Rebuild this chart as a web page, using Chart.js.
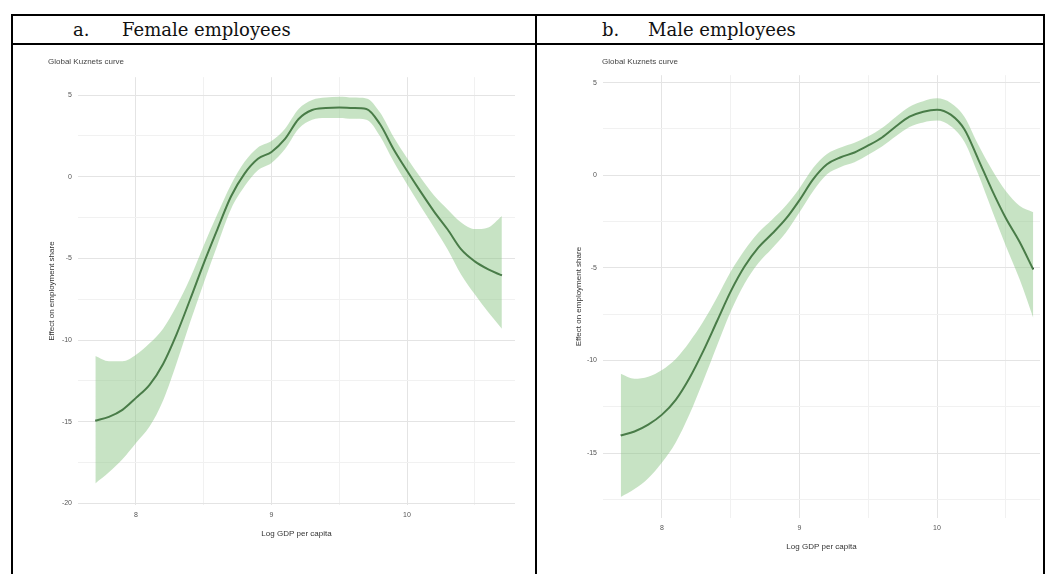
<!DOCTYPE html>
<html>
<head>
<meta charset="utf-8">
<script src="https://cdn.jsdelivr.net/npm/chart.js@4/dist/chart.umd.min.js"></script>
<style>
  body { margin: 0; background: #fff; width: 1056px; height: 574px; position: relative; overflow: hidden; }
  .hline, .vline { position: absolute; background: #000; }
  .head { position: absolute; font-family: "DejaVu Serif", serif; font-size: 18px; color: #111; top: 19px; }
  .sub { position: absolute; font-family: "Liberation Sans", Arial, sans-serif; font-size: 8px; color: #444; top: 57px; filter: blur(0.4px); }
  canvas { position: absolute; filter: blur(0.4px); }
</style>
</head>
<body>
<!-- table frame -->
<div class="hline" style="left:11px; top:14px; width:1034px; height:2px"></div>
<div class="hline" style="left:11px; top:43px; width:1034px; height:2px"></div>
<div class="vline" style="left:11px; top:14px; width:2px; height:560px"></div>
<div class="vline" style="left:535px; top:14px; width:2px; height:560px"></div>
<div class="vline" style="left:1043px; top:14px; width:2px; height:560px"></div>

<div class="head" style="left:73px">a.</div>
<div class="head" style="left:122px">Female employees</div>
<div class="head" style="left:602px">b.</div>
<div class="head" style="left:648px">Male employees</div>

<div class="sub" style="left:48px">Global Kuznets curve</div>
<div class="sub" style="left:602px">Global Kuznets curve</div>

<div style="position:absolute; left:47px; top:67px; width:471px; height:472px"><canvas id="chart-female"></canvas></div>
<div style="position:absolute; left:574px; top:65px; width:469px; height:487px"><canvas id="chart-male"></canvas></div>

<script>
// Log GDP per capita grid shared by both panels
const gdpLog = [7.7, 7.8, 7.9, 8.0, 8.1, 8.2, 8.3, 8.4, 8.5, 8.6, 8.7, 8.8, 8.9, 9.0, 9.1, 9.2,
  9.3, 9.4, 9.5, 9.6, 9.7, 9.8, 9.9, 10.0, 10.1, 10.2, 10.3, 10.4, 10.5, 10.6, 10.7]

// Female employees: fitted effect and confidence band
const femaleFit = [-14.94, -14.70, -14.27, -13.54, -12.74, -11.46, -9.63, -7.50, -5.30, -3.23, -1.22, 0.18,
  1.10, 1.52, 2.32, 3.54, 4.09, 4.21, 4.24, 4.21, 4.15, 3.23, 1.71, 0.37, -0.91, -2.13, -3.23, -4.45, -5.18, -5.67, -6.04]
const femaleUpper = [-10.98, -11.3, -11.3, -10.9, -10.2, -9.3, -7.9, -6.2, -4.2, -2.3, -0.5, 0.9,
  1.8, 2.2, 2.95, 4.15, 4.7, 4.85, 4.9, 4.85, 4.8, 3.95, 2.45, 1.15, -0.05, -1.15, -2.0, -2.8, -3.2, -3.1, -2.4]
const femaleLower = [-18.78, -18.1, -17.3, -16.3, -15.3, -13.7, -11.4, -8.9, -6.5, -4.2, -2.0, -0.6,
  0.4, 0.85, 1.7, 2.95, 3.5, 3.6, 3.6, 3.55, 3.5, 2.5, 0.95, -0.45, -1.8, -3.1, -4.45, -6.0, -7.2, -8.3, -9.3]

// Male employees: fitted effect and confidence band
const maleFit = [-14.05, -13.83, -13.46, -12.92, -12.12, -10.94, -9.49, -7.88, -6.27, -4.93, -3.91, -3.16,
  -2.36, -1.34, -0.21, 0.59, 0.97, 1.23, 1.61, 2.04, 2.63, 3.16, 3.43, 3.54, 3.27, 2.47, 0.86, -0.80, -2.31, -3.59, -5.09]
const maleUpper = [-10.72, -10.99, -10.88, -10.51, -9.92, -9.0, -7.9, -6.6, -5.2, -4.05, -3.1, -2.4,
  -1.65, -0.7, 0.4, 1.15, 1.5, 1.75, 2.1, 2.55, 3.15, 3.7, 4.0, 4.15, 3.9, 3.15, 1.65, 0.3, -0.85, -1.65, -2.0]
const maleLower = [-17.37, -16.94, -16.35, -15.5, -14.42, -12.9, -11.1, -9.2, -7.35, -5.85, -4.75, -3.95,
  -3.1, -2.0, -0.85, 0.05, 0.45, 0.7, 1.1, 1.55, 2.1, 2.6, 2.85, 2.95, 2.65, 1.8, 0.05, -1.9, -3.8, -5.6, -7.7]

// Labelled ticks; gridlines also run halfway between them
const xTickLabels = [8, 9, 10]
const femaleYTicks = [-20, -15, -10, -5, 0, 5]
const maleYTicks = [-15, -10, -5, 0, 5]

const bandColor = 'rgba(135, 196, 130, 0.47)'
const lineColor = '#123d16'

function toPoints(ys) {
  return gdpLog.map((x, i) => ({ x: x, y: ys[i] }))
}

// major ticks plus the minor ones between them
function withMinor(major, step) {
  const out = []
  for (let i = 0; i < major.length; i++) {
    out.push(major[i] - step / 2)
    out.push(major[i])
  }
  out.push(major[major.length - 1] + step / 2)
  return out
}

function makeChart(canvasId, fit, upper, lower, yTicks, yStep, range, pad) {
  const xAll = withMinor(xTickLabels, 1)
  const yAll = withMinor(yTicks, yStep)

  return new Chart(document.getElementById(canvasId), {
    type: 'line',
    data: {
      datasets: [
        { data: toPoints(upper), borderWidth: 0, pointRadius: 0, fill: false, cubicInterpolationMode: 'monotone' },
        { data: toPoints(lower), borderWidth: 0, pointRadius: 0, fill: '-1', backgroundColor: bandColor, cubicInterpolationMode: 'monotone' },
        { data: toPoints(fit), borderColor: lineColor, borderWidth: 2, pointRadius: 0, fill: false, cubicInterpolationMode: 'monotone' }
      ]
    },
    options: {
      responsive: true,
      maintainAspectRatio: false,
      animation: false,
      layout: { padding: { top: pad.top, right: 3, left: 0, bottom: 0 } },
      plugins: { legend: { display: false }, tooltip: { enabled: false } },
      scales: {
        x: {
          type: 'linear',
          min: range.xMin, max: range.xMax,
          afterBuildTicks: (scale) => {
            scale.ticks = xAll.filter(v => v >= range.xMin && v <= range.xMax).map(v => ({ value: v }))
          },
          afterFit: (scale) => { scale.height = 34 },
          border: { display: false },
          grid: {
            drawTicks: false,
            color: (ctx) => xTickLabels.includes(ctx.tick.value) ? '#e4e4e4' : '#f1f1f1'
          },
          ticks: {
            padding: pad.xTick,
            autoSkip: false,
            maxRotation: 0,
            color: '#555',
            font: { family: 'Liberation Sans', size: 7 },
            callback: (v) => xTickLabels.includes(v) ? String(v) : ''
          },
          title: {
            display: true,
            text: 'Log GDP per capita',
            color: '#333',
            padding: { top: 4, bottom: 0 },
            font: { family: 'Liberation Sans', size: 8 }
          }
        },
        y: {
          min: range.yMin, max: range.yMax,
          afterBuildTicks: (scale) => {
            scale.ticks = yAll.filter(v => v >= range.yMin && v <= range.yMax).map(v => ({ value: v }))
          },
          afterFit: (scale) => { scale.width = pad.yWidth },
          border: { display: false },
          grid: {
            drawTicks: false,
            color: (ctx) => yTicks.includes(ctx.tick.value) ? '#e4e4e4' : '#f1f1f1'
          },
          ticks: {
            padding: 6,
            autoSkip: false,
            color: '#555',
            font: { family: 'Liberation Sans', size: 7 },
            callback: (v) => yTicks.includes(v) ? String(v) : ''
          },
          title: {
            display: true,
            text: 'Effect on employment share',
            color: '#333',
            padding: { top: 0, bottom: 2 },
            font: { family: 'Liberation Sans', size: 8 }
          }
        }
      }
    }
  })
}

window.addEventListener('load', () => {
  makeChart('chart-female', femaleFit, femaleUpper, femaleLower, femaleYTicks, 5,
    { xMin: 7.572, xMax: 10.797, yMin: -20.1, yMax: 6.1 },
    { top: 8, xTick: 6, yWidth: 31 })
  makeChart('chart-male', maleFit, maleUpper, maleLower, maleYTicks, 5,
    { xMin: 7.571, xMax: 10.749, yMin: -18.5, yMax: 5.4 },
    { top: 8, xTick: 6, yWidth: 29 })
})
</script>
</body>
</html>
